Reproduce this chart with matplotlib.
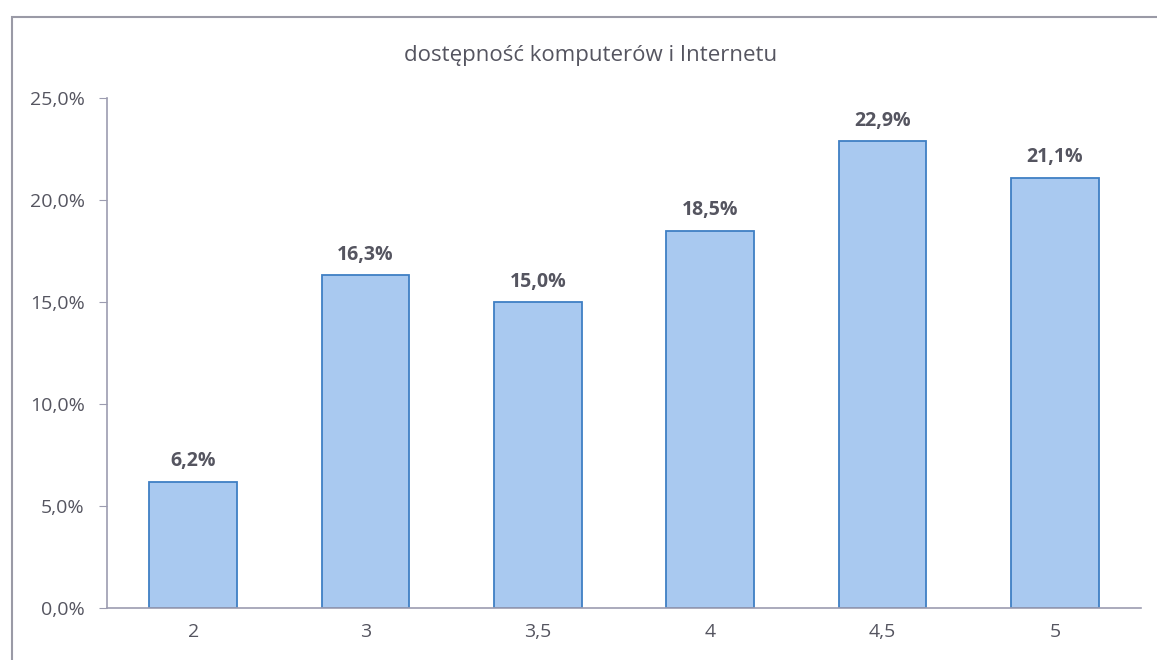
"""Bar chart: dostępność komputerów i Internetu by grade."""

import matplotlib.pyplot as plt
from matplotlib.patches import Rectangle
from matplotlib.ticker import FuncFormatter

# data
categories = ["2", "3", "3,5", "4", "4,5", "5"]
values = [6.2, 16.3, 15.0, 18.5, 22.9, 21.1]
title = "dostępność komputerów i Internetu"

plt.rcParams['font.family'] = ['Open Sans', 'DejaVu Sans']

W, H = 1157, 660
fig = plt.figure(figsize=(W / 100, H / 100), dpi=100)

# chart frame (partially cropped on right and bottom)
fig.patches.append(Rectangle((12 / W, -0.1), 1.2, 1 - 17 / H + 0.1,
                             transform=fig.transFigure, fill=False,
                             edgecolor="#9a9aa6", linewidth=1.5))

ax = fig.add_axes([107 / W, 52 / H, (1141 - 107) / W, (608 - 98) / H])

x = range(len(categories))
ax.bar(x, values, width=0.51, color="#a9c9f0", edgecolor="#3f7fc4", linewidth=1.3)

for xi, v in zip(x, values):
    ax.text(xi, v + 0.5, f"{v:.1f}%".replace(".", ","), ha="center", va="bottom",
            fontsize=14, fontweight="bold", color="#555560")

ax.set_xlim(-0.5, len(categories) - 0.5)
ax.set_ylim(0, 25)
ax.set_yticks([0, 5, 10, 15, 20, 25])
ax.yaxis.set_major_formatter(FuncFormatter(lambda v, p: f"{v:.1f}%".replace(".", ",")))
ax.set_xticks(list(x))
ax.set_xticklabels(categories)

for s in ["top", "right"]:
    ax.spines[s].set_visible(False)
ax.spines["left"].set_color("#9c9cb0")
ax.spines["bottom"].set_color("#9c9cb0")
ax.spines["left"].set_linewidth(1.2)
ax.spines["bottom"].set_linewidth(1.2)
ax.tick_params(axis="y", length=6, color="#9c9cb0", labelsize=14, labelcolor="#555560", pad=10)
ax.tick_params(axis="x", length=0, labelsize=14, labelcolor="#555560", pad=11)

fig.text(0.51, 1 - 56 / H, title, ha="center", va="center", fontsize=16, color="#555560")

fig.savefig("out.png", dpi=100)
